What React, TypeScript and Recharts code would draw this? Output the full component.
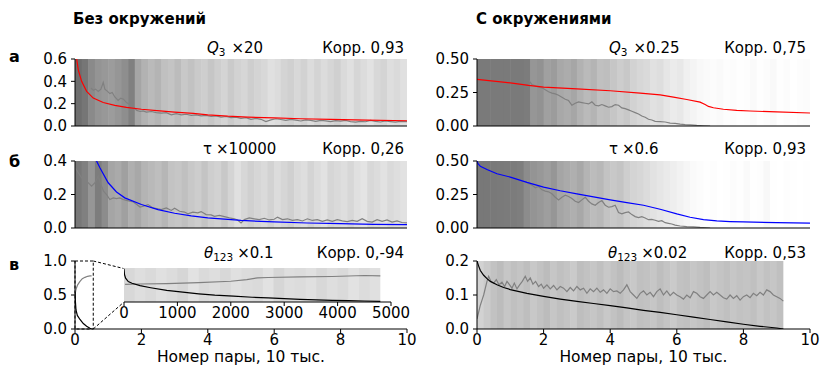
import React from 'react';
import { LineChart, Line, XAxis, YAxis, ReferenceArea, ReferenceLine } from 'recharts';

type Pt = [number, number];

const X_TICKS = [0, 2, 4, 6, 8, 10];
const INSET_TICKS = [0, 1000, 2000, 3000, 4000, 5000];

// grey level of the background, one value per 0.2-wide column
const bandsLeftQ3 = [
  110, 118, 138, 148, 152, 156, 150, 142, 128, 165, 178, 186, 180, 192, 196, 188, 200, 194, 202, 206,
  198, 206, 212, 202, 210, 214, 206, 212, 216, 224, 220, 212, 208, 216, 210, 220, 212, 220, 214, 208,
  218, 224, 214, 220, 226, 216, 212, 222, 218, 224,
];
const bandsLeftTau = [
  120, 128, 150, 125, 140, 165, 170, 160, 175, 168, 180, 185, 190, 182, 195, 198, 192, 200, 205, 196,
  206, 210, 200, 212, 224, 215, 208, 214, 218, 210, 220, 214, 208, 218, 222, 212, 220, 226, 214, 218,
  222, 215, 224, 228, 216, 220, 226, 218, 222, 226,
];
const bandsRightQ3 = [
  122, 122, 122, 122, 122, 122, 122, 124, 150, 146, 160, 156, 168, 172, 166, 178, 186, 180, 192, 190,
  198, 205, 200, 210, 215, 218, 225, 222, 230, 235, 232, 240, 244, 248, 250, 252, 250, 253, 252, 254,
  253, 250, 254, 252, 249, 254, 252, 255, 253, 252,
];
const bandsRightTau = [
  120, 120, 121, 122, 123, 124, 126, 140, 148, 152, 158, 150, 165, 170, 175, 168, 180, 188, 184, 195,
  200, 196, 206, 212, 215, 220, 226, 230, 234, 238, 242, 246, 250, 252, 254, 253, 255, 254, 252, 254,
  250, 254, 253, 248, 254, 255, 253, 254, 255, 254,
];
const bandsRightTheta = [
  210, 202, 194, 188, 198, 192, 196, 190, 200, 194, 188, 198, 192, 196, 202, 190, 194, 198, 192, 200,
  194, 188, 196, 200, 192, 194, 198, 190, 196, 202, 194, 192, 198, 194, 190, 200, 196, 192, 198, 194,
  196, 192, 200, 194, 198, 192,
];
// inset: one value per 200 pairs
const bandsInset = [
  216, 222, 218, 224, 220, 214, 226, 218, 222, 216, 224, 220, 218, 226, 214, 222, 220, 224, 216, 222,
  218, 226, 220, 224,
];

// panel a, no surroundings
const leftQ3Model: Pt[] = [
  [0.02, 0.9], [0.05, 0.6], [0.1, 0.5], [0.2, 0.4], [0.35, 0.31], [0.55, 0.25], [0.85, 0.21], [1.2, 0.185],
  [1.55, 0.167], [2.0, 0.15], [2.56, 0.135], [3.0, 0.125], [3.56, 0.113], [4.0, 0.1], [4.6, 0.088],
  [5.2, 0.08], [6.0, 0.072], [6.8, 0.065], [7.7, 0.06], [8.8, 0.053], [10, 0.047],
];
const leftQ3Observed: Pt[] = [
  [0.48, 0.34], [0.55, 0.32], [0.62, 0.33], [0.7, 0.31], [0.78, 0.33], [0.85, 0.39], [0.9, 0.33], [0.98, 0.31],
  [1.05, 0.29], [1.12, 0.3], [1.2, 0.26], [1.3, 0.23], [1.38, 0.25], [1.46, 0.24], [1.55, 0.21], [1.66, 0.19],
  [1.76, 0.17], [1.86, 0.14], [1.96, 0.13], [2.05, 0.135], [2.15, 0.125], [2.3, 0.13], [2.45, 0.12],
  [2.6, 0.115], [2.75, 0.12], [2.9, 0.1], [3.05, 0.11], [3.2, 0.1], [3.35, 0.105], [3.5, 0.095], [3.65, 0.1],
  [3.8, 0.09], [3.95, 0.095], [4.1, 0.085], [4.25, 0.09], [4.4, 0.08], [4.55, 0.085], [4.7, 0.075],
  [4.85, 0.08], [5.0, 0.068], [5.15, 0.075], [5.3, 0.06], [5.45, 0.068], [5.6, 0.06], [5.75, 0.04],
  [5.9, 0.055], [6.05, 0.065], [6.2, 0.058], [6.35, 0.05], [6.5, 0.06], [6.65, 0.052], [6.8, 0.045],
  [6.95, 0.055], [7.1, 0.05], [7.25, 0.042], [7.4, 0.05], [7.55, 0.046], [7.7, 0.04], [7.85, 0.048],
  [8.0, 0.044], [8.15, 0.05], [8.3, 0.04], [8.45, 0.035], [8.6, 0.042], [8.75, 0.038], [8.9, 0.05],
  [9.05, 0.042], [9.2, 0.036], [9.35, 0.045], [9.5, 0.04], [9.65, 0.035], [9.8, 0.042], [10, 0.04],
];

// panel б, no surroundings
const leftTauModel: Pt[] = [
  [0.55, 0.5], [0.65, 0.4], [0.75, 0.36], [1.0, 0.27], [1.25, 0.215], [1.5, 0.18], [2.0, 0.14], [2.5, 0.11],
  [3.0, 0.088], [3.5, 0.072], [4.0, 0.06], [5.0, 0.045], [6.0, 0.036], [7.0, 0.03], [8.0, 0.026],
  [9.0, 0.022], [10, 0.02],
];
const leftTauObserved: Pt[] = [
  [0, 0.36], [0.1, 0.33], [0.2, 0.3], [0.3, 0.28], [0.4, 0.27], [0.5, 0.25], [0.6, 0.27], [0.7, 0.31],
  [0.78, 0.26], [0.86, 0.22], [0.95, 0.2], [1.05, 0.17], [1.15, 0.18], [1.25, 0.175], [1.35, 0.18],
  [1.45, 0.17], [1.55, 0.165], [1.65, 0.16], [1.76, 0.155], [1.86, 0.14], [1.96, 0.125], [2.06, 0.13],
  [2.2, 0.14], [2.35, 0.12], [2.5, 0.115], [2.6, 0.11], [2.75, 0.12], [2.9, 0.105], [3.0, 0.118],
  [3.15, 0.1], [3.3, 0.095], [3.4, 0.085], [3.55, 0.095], [3.7, 0.09], [3.8, 0.098], [3.95, 0.08],
  [4.1, 0.078], [4.2, 0.07], [4.35, 0.075], [4.5, 0.068], [4.65, 0.06], [4.8, 0.055], [4.9, 0.048],
  [5.0, 0.03], [5.1, 0.05], [5.25, 0.06], [5.4, 0.055], [5.55, 0.05], [5.7, 0.058], [5.85, 0.048],
  [6.0, 0.052], [6.1, 0.065], [6.25, 0.05], [6.4, 0.055], [6.55, 0.046], [6.7, 0.05], [6.85, 0.042],
  [7.0, 0.055], [7.15, 0.045], [7.3, 0.05], [7.45, 0.04], [7.6, 0.048], [7.75, 0.04], [7.9, 0.05],
  [8.05, 0.043], [8.2, 0.038], [8.35, 0.045], [8.5, 0.04], [8.65, 0.055], [8.8, 0.04], [8.95, 0.035],
  [9.1, 0.05], [9.25, 0.04], [9.4, 0.048], [9.55, 0.035], [9.7, 0.042], [9.85, 0.033], [10, 0.03],
];

// panel в, no surroundings (main axes, 10 thousand pairs)
const leftThetaObserved: Pt[] = [
  [0, 0.5], [0.02, 0.56], [0.04, 0.6], [0.08, 0.65], [0.15, 0.7], [0.22, 0.74], [0.3, 0.76], [0.38, 0.775],
  [0.45, 0.78], [0.5, 0.78],
];
const leftThetaModel: Pt[] = [
  [0, 0.55], [0.01, 0.42], [0.03, 0.28], [0.07, 0.2], [0.15, 0.14], [0.25, 0.08], [0.35, 0.04],
  [0.45, 0.01], [0.5, 0],
];
// inset (pairs)
const insetObserved: Pt[] = [
  [20, 0.52], [300, 0.53], [800, 0.54], [1400, 0.57], [2000, 0.61], [2300, 0.66], [2500, 0.71],
  [2700, 0.72], [3300, 0.74], [3900, 0.75], [4500, 0.78], [4800, 0.77],
];
const insetModel: Pt[] = [
  [0, 0.98], [10, 0.8], [30, 0.7], [80, 0.6], [150, 0.55], [300, 0.48], [500, 0.42], [800, 0.34],
  [1100, 0.29], [1400, 0.24], [1700, 0.2], [2050, 0.17], [2400, 0.14], [2700, 0.12], [3000, 0.1],
  [3300, 0.08], [3600, 0.065], [3900, 0.05], [4200, 0.04], [4500, 0.03], [4800, 0.02],
];

// panel a, with surroundings
const rightQ3Model: Pt[] = [
  [0, 0.348], [0.5, 0.335], [1.0, 0.322], [1.55, 0.303], [2.0, 0.29], [3.0, 0.277], [4.0, 0.263],
  [4.9, 0.246], [5.5, 0.232], [5.9, 0.216], [6.3, 0.198], [6.7, 0.178], [6.85, 0.16], [6.95, 0.146],
  [7.1, 0.136], [7.4, 0.125], [7.8, 0.117], [8.2, 0.112], [9.0, 0.105], [10, 0.097],
];
const rightQ3Observed: Pt[] = [
  [1.55, 0.34], [1.65, 0.31], [1.75, 0.3], [1.85, 0.29], [1.95, 0.285], [2.05, 0.27], [2.15, 0.255],
  [2.25, 0.245], [2.35, 0.24], [2.45, 0.23], [2.55, 0.215], [2.65, 0.2], [2.75, 0.19], [2.85, 0.155],
  [2.95, 0.17], [3.05, 0.18], [3.15, 0.175], [3.25, 0.17], [3.35, 0.165], [3.45, 0.18], [3.55, 0.155],
  [3.65, 0.15], [3.75, 0.16], [3.85, 0.15], [3.95, 0.14], [4.05, 0.145], [4.15, 0.16], [4.25, 0.155],
  [4.35, 0.135], [4.45, 0.13], [4.55, 0.12], [4.65, 0.11], [4.75, 0.1], [4.85, 0.09], [4.95, 0.075],
  [5.05, 0.065], [5.15, 0.05], [5.25, 0.045], [5.35, 0.035], [5.5, 0.033], [5.65, 0.03], [5.8, 0.022],
  [5.95, 0.02], [6.1, 0.014], [6.25, 0.01], [6.4, 0.008], [6.6, 0.004], [6.8, 0.002], [7.0, 0],
];

// panel б, with surroundings
const rightTauModel: Pt[] = [
  [0, 0.5], [0.03, 0.48], [0.1, 0.46], [0.3, 0.436], [0.6, 0.405], [1.0, 0.38], [1.5, 0.34], [2.0, 0.305],
  [2.5, 0.278], [3.0, 0.255], [3.5, 0.232], [4.0, 0.21], [4.5, 0.19], [5.0, 0.17], [5.5, 0.14], [6.0, 0.105],
  [6.4, 0.08], [6.8, 0.062], [7.2, 0.053], [7.6, 0.048], [8.0, 0.045], [9.0, 0.04], [10, 0.036],
];
const rightTauObserved: Pt[] = [
  [1.45, 0.35], [1.55, 0.33], [1.65, 0.32], [1.75, 0.3], [1.85, 0.31], [1.95, 0.285], [2.05, 0.275],
  [2.15, 0.27], [2.25, 0.255], [2.35, 0.23], [2.45, 0.21], [2.55, 0.23], [2.65, 0.245], [2.75, 0.235],
  [2.85, 0.22], [2.95, 0.2], [3.05, 0.19], [3.15, 0.21], [3.25, 0.23], [3.35, 0.2], [3.45, 0.18],
  [3.55, 0.17], [3.65, 0.19], [3.75, 0.205], [3.85, 0.17], [3.95, 0.155], [4.05, 0.16], [4.15, 0.17],
  [4.25, 0.115], [4.35, 0.105], [4.45, 0.115], [4.55, 0.12], [4.65, 0.1], [4.75, 0.085], [4.85, 0.078],
  [4.95, 0.085], [5.05, 0.075], [5.15, 0.062], [5.25, 0.064], [5.35, 0.058], [5.45, 0.05], [5.55, 0.055],
  [5.65, 0.04], [5.75, 0.035], [5.85, 0.03], [5.95, 0.022], [6.1, 0.015], [6.3, 0.01], [6.5, 0.008],
  [6.7, 0.004], [6.9, 0.002], [7.0, 0],
];

// panel в, with surroundings
const rightThetaModel: Pt[] = [
  [0, 0.2], [0.05, 0.185], [0.1, 0.172], [0.2, 0.158], [0.3, 0.148], [0.4, 0.14], [0.6, 0.13], [0.8, 0.122],
  [1.0, 0.116], [1.5, 0.105], [2.0, 0.096], [2.5, 0.088], [3.0, 0.081], [3.5, 0.075], [4.0, 0.069],
  [4.5, 0.062], [5.0, 0.055], [5.5, 0.049], [6.0, 0.042], [6.5, 0.035], [7.0, 0.028], [7.5, 0.021],
  [8.0, 0.014], [8.5, 0.008], [9.0, 0.003], [9.2, 0],
];
const rightThetaObserved: Pt[] = [
  [0, 0.03], [0.05, 0.05], [0.1, 0.07], [0.15, 0.085], [0.2, 0.1], [0.25, 0.12], [0.3, 0.14], [0.35, 0.155],
  [0.42, 0.14], [0.5, 0.135], [0.58, 0.145], [0.66, 0.13], [0.75, 0.138], [0.83, 0.125], [0.9, 0.14],
  [0.98, 0.13], [1.05, 0.12], [1.12, 0.135], [1.2, 0.118], [1.28, 0.13], [1.36, 0.14], [1.45, 0.155],
  [1.52, 0.14], [1.6, 0.15], [1.68, 0.132], [1.76, 0.14], [1.85, 0.125], [1.93, 0.132], [2.0, 0.12],
  [2.1, 0.13], [2.2, 0.118], [2.3, 0.128], [2.4, 0.115], [2.5, 0.125], [2.6, 0.12], [2.7, 0.11],
  [2.8, 0.122], [2.9, 0.112], [3.0, 0.125], [3.1, 0.115], [3.2, 0.12], [3.3, 0.105], [3.4, 0.118],
  [3.5, 0.11], [3.6, 0.12], [3.7, 0.108], [3.8, 0.115], [3.9, 0.105], [4.0, 0.118], [4.1, 0.11],
  [4.2, 0.112], [4.3, 0.105], [4.4, 0.115], [4.5, 0.13], [4.6, 0.11], [4.7, 0.1], [4.8, 0.09],
  [4.9, 0.105], [5.0, 0.112], [5.1, 0.1], [5.2, 0.108], [5.3, 0.095], [5.4, 0.11], [5.5, 0.118],
  [5.6, 0.1], [5.7, 0.112], [5.8, 0.098], [5.9, 0.108], [6.0, 0.1], [6.1, 0.095], [6.2, 0.088],
  [6.3, 0.1], [6.4, 0.092], [6.5, 0.11], [6.6, 0.105], [6.7, 0.095], [6.8, 0.09], [6.9, 0.1], [7.0, 0.11],
  [7.1, 0.1], [7.2, 0.108], [7.3, 0.1], [7.4, 0.092], [7.5, 0.088], [7.6, 0.1], [7.7, 0.09], [7.8, 0.098],
  [7.9, 0.085], [8.0, 0.095], [8.1, 0.1], [8.2, 0.092], [8.3, 0.105], [8.4, 0.098], [8.5, 0.108],
  [8.6, 0.1], [8.7, 0.115], [8.8, 0.11], [8.9, 0.1], [9.0, 0.095], [9.1, 0.09], [9.2, 0.082],
];

const corrLeft = ['0,93', '0,26', '0,-94'];
const corrRight = ['0,75', '0,93', '0,53'];
const scaleLeft = ['×20', '×10000', '×0.1'];
const scaleRight = ['×0.25', '×0.6', '×0.02'];
const X_LABEL = 'Номер пары, 10 тыс.';

// where the zoom inset sits, in main-axes units of panel в
const ZOOM_X = 0.55;
const INSET_LEFT = 1.46;
const INSET_TOP = 0.89;
const INSET_BOTTOM = 0.39;

const GREY_LINE = '#808080';
const tickStyle = { fontSize: 15, fill: '#000' };
const grey = (v: number) => `rgb(${v},${v},${v})`;
const toXY = (pts: Pt[]) => pts.map(([x, y]) => ({ x, y }));

function bandAreas(levels: number[], step: number, prefix: string) {
  return levels.map((g, i) => (
    <ReferenceArea
      key={`${prefix}-${i}`}
      x1={i * step}
      x2={i === levels.length - 1 ? (i + 1) * step : (i + 1.08) * step}
      fill={grey(g)}
      fillOpacity={1}
      stroke="none"
      ifOverflow="hidden"
    />
  ));
}

interface Series {
  points: Pt[];
  color: string;
}

interface PanelProps {
  left: number;
  top: number;
  plotHeight: number;
  marginRight: number;
  yDomain: [number, number];
  yTicks: number[];
  yDigits: number;
  bands?: number[];
  series: Series[];
  xLabels: boolean;
  extra?: React.ReactNode;
}

function Panel({ left, top, plotHeight, marginRight, yDomain, yTicks, yDigits, bands, series, xLabels, extra }: PanelProps) {
  const xh = xLabels ? 30 : 10;
  return (
    <div style={{ position: 'absolute', left, top }}>
      <LineChart width={420} height={9 + plotHeight + xh} margin={{ top: 9, right: marginRight, bottom: 0, left: 0 }}>
        {bands ? bandAreas(bands, 0.2, 'b') : null}
        {extra}
        {series.map((s, i) => (
          <Line
            key={i}
            data={toXY(s.points)}
            dataKey="y"
            type="linear"
            stroke={s.color}
            strokeWidth={1.2}
            dot={false}
            activeDot={false}
            isAnimationActive={false}
          />
        ))}
        <XAxis
          type="number"
          dataKey="x"
          domain={[0, 10]}
          ticks={X_TICKS}
          interval={0}
          allowDataOverflow
          height={xh}
          tickSize={4}
          tickMargin={1}
          stroke="#000"
          tick={xLabels ? tickStyle : false}
        />
        <XAxis xAxisId="frameTop" orientation="top" type="number" domain={[0, 10]} allowDataOverflow height={0} tick={false} tickLine={false} stroke="#000" />
        <YAxis
          type="number"
          domain={yDomain}
          ticks={yTicks}
          interval={0}
          allowDataOverflow
          width={75}
          tickSize={4}
          tickMargin={4}
          stroke="#000"
          tick={tickStyle}
          tickFormatter={(v: number) => v.toFixed(yDigits)}
        />
        <YAxis yAxisId="frameRight" orientation="right" type="number" domain={[0, 1]} width={0} tick={false} tickLine={false} stroke="#000" />
      </LineChart>
    </div>
  );
}

function Inset() {
  return (
    <div style={{ position: 'absolute', left: 110, top: 266 }}>
      <LineChart width={300} height={56} margin={{ top: 2, right: 19, bottom: 0, left: 14 }}>
        {bandAreas(bandsInset, 200, 'i')}
        <Line data={toXY(insetObserved)} dataKey="y" stroke={GREY_LINE} strokeWidth={1.2} dot={false} activeDot={false} isAnimationActive={false} />
        <Line data={toXY(insetModel)} dataKey="y" stroke="#000" strokeWidth={1.2} dot={false} activeDot={false} isAnimationActive={false} />
        <XAxis type="number" dataKey="x" domain={[0, 5000]} ticks={INSET_TICKS} interval={0} allowDataOverflow height={20} tickSize={4} tickMargin={1} stroke="#000" tick={tickStyle} />
        <XAxis xAxisId="frameTop" orientation="top" type="number" domain={[0, 5000]} height={0} tick={false} tickLine={false} stroke="#000" />
        <YAxis type="number" domain={[0, 1]} allowDataOverflow width={0} tick={false} tickLine={false} stroke="#000" />
        <YAxis yAxisId="frameRight" orientation="right" type="number" domain={[0, 1]} width={0} tick={false} tickLine={false} stroke="#000" />
      </LineChart>
    </div>
  );
}

function Subtitle({ x, y, symbol, sub, italic, gap, scale }: { x: number; y: number; symbol: string; sub?: string; italic: boolean; gap: number; scale: string }) {
  return (
    <text x={x} y={y} fontSize={15}>
      <tspan fontStyle={italic ? 'italic' : 'normal'}>{symbol}</tspan>
      {sub ? <tspan fontSize={10.5} dy={3}>{sub}</tspan> : null}
      <tspan dx={gap} dy={sub ? -3 : 0}>{scale}</tspan>
    </text>
  );
}

function Labels() {
  const base = [53.3, 154, 257.5];
  return (
    <svg width={821} height={371} style={{ position: 'absolute', left: 0, top: 0, pointerEvents: 'none' }}>
      <text x={73} y={23.5} fontSize={15} fontWeight="bold">Без окружений</text>
      <text x={476} y={23.5} fontSize={15} fontWeight="bold">С окружениями</text>
      <text x={9} y={62} fontSize={16} fontWeight="bold">а</text>
      <text x={9} y={167} fontSize={16} fontWeight="bold">б</text>
      <text x={9} y={270} fontSize={16} fontWeight="bold">в</text>

      <Subtitle x={207} y={base[0]} symbol="Q" sub="3" italic gap={6} scale={scaleLeft[0]} />
      <Subtitle x={203} y={base[1]} symbol="τ" italic={false} gap={4} scale={scaleLeft[1]} />
      <Subtitle x={204} y={base[2]} symbol="θ" sub="123" italic gap={4} scale={scaleLeft[2]} />
      <Subtitle x={609} y={base[0]} symbol="Q" sub="3" italic gap={6} scale={scaleRight[0]} />
      <Subtitle x={609} y={base[1]} symbol="τ" italic={false} gap={4} scale={scaleRight[1]} />
      <Subtitle x={608} y={base[2]} symbol="θ" sub="123" italic gap={4} scale={scaleRight[2]} />

      {corrLeft.map((c, i) => (
        <text key={`cl${i}`} x={404} y={base[i]} fontSize={15} textAnchor="end">Корр. {c}</text>
      ))}
      {corrRight.map((c, i) => (
        <text key={`cr${i}`} x={806} y={base[i]} fontSize={15} textAnchor="end">Корр. {c}</text>
      ))}

      <text x={241} y={362} fontSize={15.5} textAnchor="middle">{X_LABEL}</text>
      <text x={643.5} y={362} fontSize={15.5} textAnchor="middle">{X_LABEL}</text>
    </svg>
  );
}

export default function App() {
  const zoomMarks = [
    <ReferenceArea key="zr" x1={0} x2={ZOOM_X} y1={0} y2={1} fill="none" stroke="#000" strokeWidth={1} strokeDasharray="3 2" />,
    <ReferenceLine key="zt" segment={[{ x: ZOOM_X, y: 1 }, { x: INSET_LEFT, y: INSET_TOP }]} stroke="#000" strokeDasharray="3 2" ifOverflow="visible" />,
    <ReferenceLine key="zb" segment={[{ x: ZOOM_X, y: 0 }, { x: INSET_LEFT, y: INSET_BOTTOM }]} stroke="#000" strokeDasharray="3 2" ifOverflow="visible" />,
  ];

  return (
    <div style={{ position: 'absolute', left: 0, top: 0, width: 821, height: 371, background: '#fff', fontFamily: '"DejaVu Sans", sans-serif' }}>
      <Panel left={0} top={50} plotHeight={67} marginRight={13} yDomain={[0, 0.6]} yTicks={[0, 0.2, 0.4, 0.6]} yDigits={1}
        bands={bandsLeftQ3} xLabels={false}
        series={[{ points: leftQ3Observed, color: GREY_LINE }, { points: leftQ3Model, color: '#ff0000' }]} />
      <Panel left={0} top={152} plotHeight={67} marginRight={13} yDomain={[0, 0.4]} yTicks={[0, 0.2, 0.4]} yDigits={1}
        bands={bandsLeftTau} xLabels={false}
        series={[{ points: leftTauObserved, color: GREY_LINE }, { points: leftTauModel, color: '#0000ff' }]} />
      <Panel left={0} top={252} plotHeight={68} marginRight={13} yDomain={[0, 1]} yTicks={[0, 0.5, 1]} yDigits={1}
        xLabels extra={zoomMarks}
        series={[{ points: leftThetaObserved, color: GREY_LINE }, { points: leftThetaModel, color: '#000' }]} />
      <Inset />

      <Panel left={402} top={50} plotHeight={67} marginRight={12} yDomain={[0, 0.5]} yTicks={[0, 0.25, 0.5]} yDigits={2}
        bands={bandsRightQ3} xLabels={false}
        series={[{ points: rightQ3Observed, color: GREY_LINE }, { points: rightQ3Model, color: '#ff0000' }]} />
      <Panel left={402} top={152} plotHeight={67} marginRight={12} yDomain={[0, 0.5]} yTicks={[0, 0.25, 0.5]} yDigits={2}
        bands={bandsRightTau} xLabels={false}
        series={[{ points: rightTauObserved, color: GREY_LINE }, { points: rightTauModel, color: '#0000ff' }]} />
      <Panel left={402} top={252} plotHeight={68} marginRight={12} yDomain={[0, 0.2]} yTicks={[0, 0.1, 0.2]} yDigits={1}
        bands={bandsRightTheta} xLabels
        series={[{ points: rightThetaObserved, color: GREY_LINE }, { points: rightThetaModel, color: '#000' }]} />

      <Labels />
    </div>
  );
}
